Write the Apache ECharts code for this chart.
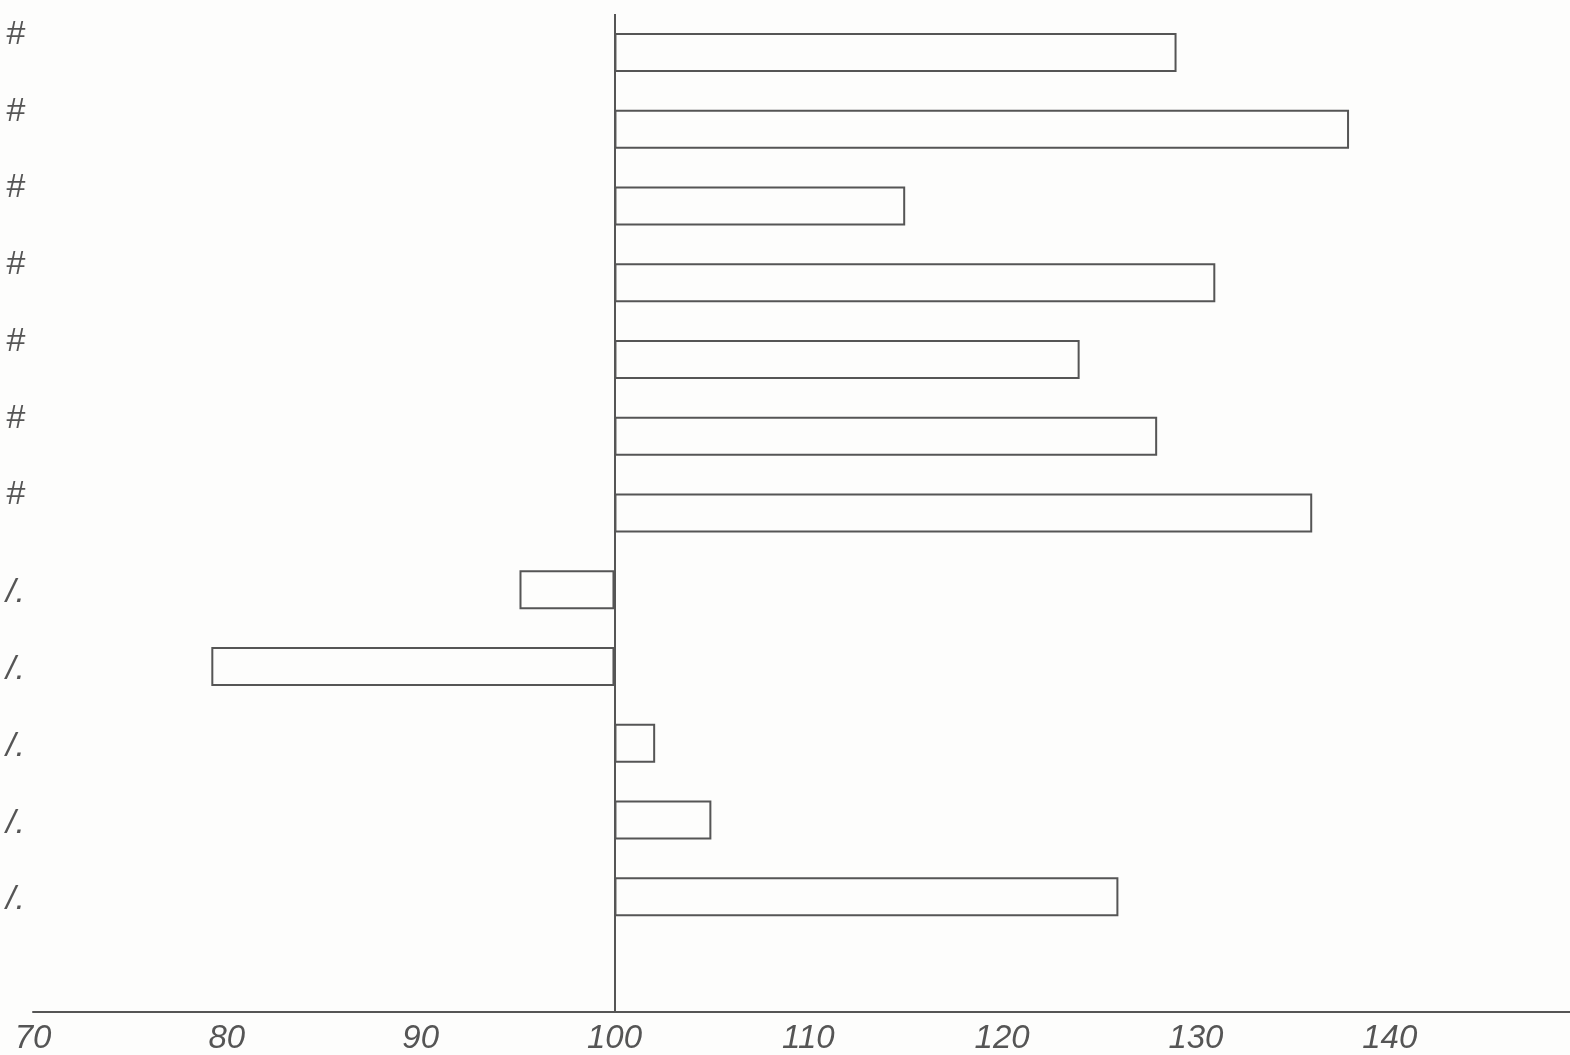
<!DOCTYPE html>
<html>
<head>
<meta charset="utf-8">
<script src="https://cdn.jsdelivr.net/npm/echarts@6/dist/echarts.min.js"></script>
<style>
html,body{margin:0;padding:0;background:#fdfdfc;}
#chart{width:1570px;height:1055px;}
</style>
</head>
<body>
<div id="chart"></div>
<script>
const categories = ['#', '#', '#', '#', '#', '#', '#', '/.', '/.', '/.', '/.', '/.', ''];
const values = [129, 137.9, 115, 131, 124, 128, 136, 95.1, 79.2, 102.1, 105, 126, null];
const baseline = 100;
const xTicks = [70, 80, 90, 100, 110, 120, 130, 140];

const baseData = values.map(v => v == null ? null : Math.min(v, baseline));
const diffData = values.map(v => v == null ? null : Math.abs(v - baseline));

const ink = '#555555';
const chart = echarts.init(document.getElementById('chart'));
chart.setOption({
  backgroundColor: '#fdfdfc',
  animation: false,
  grid: { left: 33, right: 0, top: 14, bottom: 39, containLabel: false },
  xAxis: {
    type: 'value', min: 70, max: 149.3, interval: 10,
    axisLine: { show: true, lineStyle: { color: ink, width: 2 } },
    axisTick: { show: false },
    splitLine: { show: false },
    axisLabel: {
      margin: 10, color: ink, fontSize: 33, fontStyle: 'italic',
      fontFamily: 'Liberation Sans', showMaxLabel: false,
      formatter: v => xTicks.indexOf(Math.round(v * 10) / 10) >= 0 ? String(v) : ''
    }
  },
  yAxis: {
    type: 'category', inverse: true, data: categories,
    axisLine: { show: false }, axisTick: { show: false }, splitLine: { show: false },
    axisLabel: {
      margin: 8, color: ink, fontSize: 34, fontStyle: 'italic', fontFamily: 'Liberation Sans',
      formatter: v => v === '#' ? '{h|' + v + '}' : (v ? '{s|' + v + '}' : ''),
      rich: {
        h: { fontSize: 34, fontStyle: 'italic', color: ink, fontFamily: 'Liberation Sans', padding: [0, 0, 36, 0] },
        s: { fontSize: 34, fontStyle: 'italic', color: ink, fontFamily: 'Liberation Sans', padding: [6, 0, 0, 0] }
      }
    }
  },
  series: [
    {
      type: 'bar', stack: 'a', data: baseData, barWidth: 39,
      itemStyle: { color: 'rgba(0,0,0,0)' }, silent: true
    },
    {
      type: 'bar', stack: 'a', data: diffData, barWidth: 39,
      itemStyle: { color: '#fdfdfc', borderColor: ink, borderWidth: 2 },
      markLine: {
        symbol: 'none', silent: true, label: { show: false },
        lineStyle: { color: ink, width: 2, type: 'solid' },
        data: [{ xAxis: baseline }]
      }
    }
  ]
});
</script>
</body>
</html>
